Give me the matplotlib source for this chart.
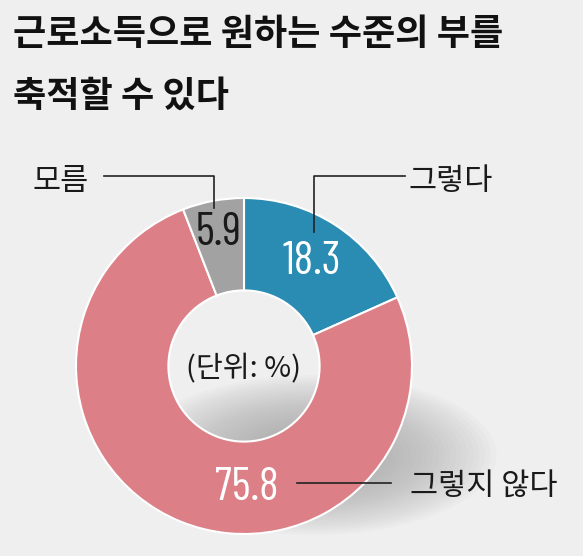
import matplotlib
matplotlib.use("Agg")
import matplotlib.pyplot as plt
from matplotlib.patches import Ellipse

# ---- data ----
categories = ["그렇다", "그렇지 않다", "모름"]
values = [18.3, 75.8, 5.9]
value_labels = ["18.3", "75.8", "5.9"]
colors = ["#2a8cb2", "#dc7f87", "#a2a2a2"]
title_lines = ["근로소득으로 원하는 수준의 부를", "축적할 수 있다"]
unit_label = "(단위: %)"

W, H = 583, 556
BG = "#efefef"

NUM = ["Barlow Condensed", "Liberation Sans", "DejaVu Sans"]
KR = ["Noto Sans CJK KR", "DejaVu Sans"]

fig = plt.figure(figsize=(W / 100, H / 100), dpi=100, facecolor=BG)
ax = fig.add_axes([0, 0, 1, 1])
ax.set_facecolor(BG)

def Y(y):
    return H - y

cx, cy, R = 244, 366, 168

# soft shadow
for i in range(30):
    f = 1 - i / 30
    ax.add_patch(Ellipse((314, Y(455)), 345 * f + 20, 150 * f + 10,
                         facecolor="#959595", edgecolor="none",
                         alpha=0.04, zorder=1))

ax.pie(values, colors=colors, startangle=90, counterclock=False,
       radius=R, center=(cx, Y(cy)),
       wedgeprops=dict(width=R * 0.55, edgecolor="white", linewidth=1.5),
       frame=True)
ax.set_xlim(0, W)
ax.set_ylim(0, H)
ax.set_aspect("equal")
ax.axis("off")

# value labels
ax.text(312, Y(262), value_labels[0], color="white", fontsize=33,
        family=NUM, weight="normal", ha="center", va="center", zorder=5)
ax.text(247, Y(488), value_labels[1], color="white", fontsize=33,
        family=NUM, weight="normal", ha="center", va="center", zorder=5)
ax.text(219, Y(233), value_labels[2], color="#1a1a1a", fontsize=33,
        family=NUM, weight="normal", ha="center", va="center", zorder=5)

# unit label
ax.text(cx, Y(369), unit_label, fontsize=21, family=KR, color="#1a1a1a",
        ha="center", va="center", zorder=5)

# category labels with leader lines
lc = "#222222"
ax.text(408, Y(181), categories[0], fontsize=22, family=KR, color="#1a1a1a",
        ha="left", va="center", zorder=5)
ax.plot([405, 314, 314], [Y(176), Y(176), Y(232)], color=lc, lw=1.2, zorder=6)

ax.text(410, Y(486), categories[1], fontsize=22, family=KR, color="#1a1a1a",
        ha="left", va="center", zorder=5)
ax.plot([297, 391], [Y(483), Y(483)], color=lc, lw=1.2, zorder=6)

ax.text(33, Y(181), categories[2], fontsize=22, family=KR, color="#1a1a1a",
        ha="left", va="center", zorder=5)
ax.plot([104, 214, 214], [Y(176), Y(176), Y(208)], color=lc, lw=1.2, zorder=6)

# title
ax.text(13, Y(34), title_lines[0], fontsize=26, family=KR, weight="black",
        color="#111111", ha="left", va="center", zorder=5)
ax.text(13, Y(96), title_lines[1], fontsize=26, family=KR, weight="black",
        color="#111111", ha="left", va="center", zorder=5)

fig.savefig("out.png", dpi=100, facecolor=BG)
